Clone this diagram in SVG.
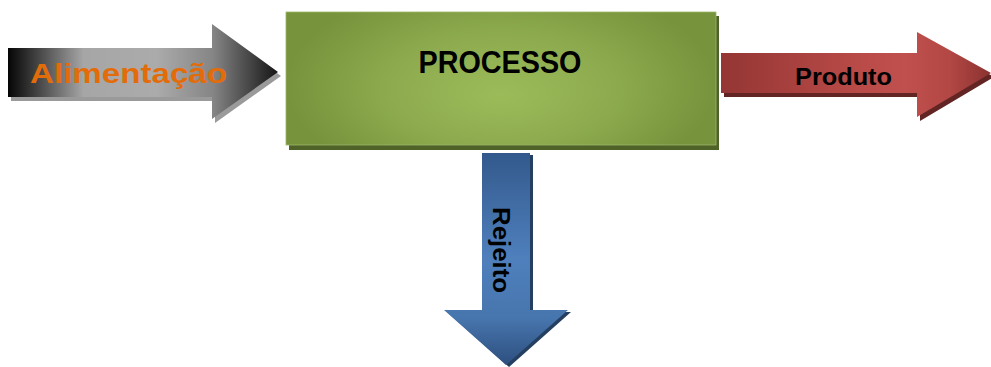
<svg xmlns="http://www.w3.org/2000/svg" width="991" height="367" viewBox="0 0 991 367">
<defs>
<linearGradient id="gGray" gradientUnits="userSpaceOnUse" x1="8" y1="0" x2="278" y2="0">
<stop offset="0" stop-color="#050505"/>
<stop offset="0.28" stop-color="#a6a6a6"/>
<stop offset="0.55" stop-color="#ababab"/>
<stop offset="0.76" stop-color="#858585"/>
<stop offset="1" stop-color="#151515"/>
</linearGradient>
<linearGradient id="gRed" gradientUnits="userSpaceOnUse" x1="721" y1="0" x2="991" y2="0">
<stop offset="0" stop-color="#943634"/>
<stop offset="0.5" stop-color="#b84a47"/>
<stop offset="0.68" stop-color="#c0504d"/>
<stop offset="0.85" stop-color="#b24744"/>
<stop offset="1" stop-color="#8a3230"/>
</linearGradient>
<linearGradient id="gBlue" gradientUnits="userSpaceOnUse" x1="0" y1="153" x2="0" y2="365">
<stop offset="0" stop-color="#33598c"/>
<stop offset="0.5" stop-color="#4f80bd"/>
<stop offset="0.78" stop-color="#4775ad"/>
<stop offset="1" stop-color="#2d4f7f"/>
</linearGradient>
<radialGradient id="gGreen" cx="0.5" cy="0.55" r="0.5" fx="0.5" fy="0.6" gradientTransform="translate(0.5 0.55) scale(1 1.6) translate(-0.5 -0.55)">
<stop offset="0" stop-color="#9bbb59"/>
<stop offset="0.5" stop-color="#8eac4f"/>
<stop offset="1" stop-color="#77933c"/>
</radialGradient>
</defs>
<style>
.lbl{font-family:"Liberation Sans",Arial,sans-serif;font-weight:bold}
</style>
<g id="processo">
<rect x="289" y="16" width="430" height="134" fill="#4f6228"/>
<rect x="286" y="12" width="430" height="133" fill="url(#gGreen)" stroke="#9bb76a" stroke-width="0.8"/>
<text class="lbl" x="500" y="73" font-size="31" text-anchor="middle" textLength="163" lengthAdjust="spacingAndGlyphs" fill="#000">PROCESSO</text>
</g>
<g id="connectors">
<g id="alimentacao">
<path d="M8,48 H212 V24 L278,72 L212,119 V97 H8 Z" transform="translate(3 4)" fill="#9a9a9a"/>
<path d="M8,48 H212 V24 L278,72 L212,119 V97 H8 Z" fill="url(#gGray)"/>
<text class="lbl" x="30" y="83" font-size="28" textLength="197" lengthAdjust="spacingAndGlyphs" fill="#e36c0a">Alimentação</text>
</g>
<g id="produto">
<path d="M721,53 H917 V32 L991,73 L917,117 V93 H721 Z" transform="translate(3 4)" fill="#632523"/>
<path d="M721,53 H917 V32 L991,73 L917,117 V93 H721 Z" fill="url(#gRed)"/>
<text class="lbl" x="795" y="85" font-size="24" textLength="97" lengthAdjust="spacingAndGlyphs" fill="#000">Produto</text>
</g>
<g id="rejeito">
<path d="M482,153 H530 V310 H568 L506,365 L444,310 H482 Z" transform="translate(3 2)" fill="#243f60"/>
<path d="M482,153 H530 V310 H568 L506,365 L444,310 H482 Z" fill="url(#gBlue)"/>
<text class="lbl" transform="translate(493 207) rotate(90)" x="0" y="0" font-size="24" textLength="86" lengthAdjust="spacingAndGlyphs" fill="#000">Rejeito</text>
</g>
</g>
</svg>
